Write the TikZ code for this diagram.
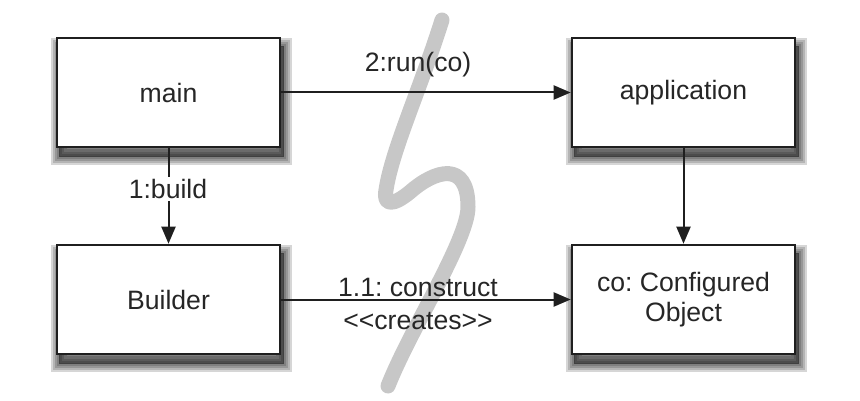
\documentclass[tikz,border=0pt]{standalone}
\usepackage{fontspec}
\setmainfont{Liberation Sans}
\frenchspacing
\usetikzlibrary{arrows.meta}
\pgfdeclarelayer{bg}
\pgfsetlayers{bg,main}
\begin{document}
\begin{tikzpicture}[x=1pt,y=-1pt,
  lbl/.style={font=\fontsize{26.6}{30}\selectfont, inner sep=1pt, text=black!85},
  shl/.style={draw=black, fill=black, opacity=0.16, line width=#1},
  box/.style={draw=black!88, line width=2.6pt, fill=white,
    minimum width=223pt, minimum height=109pt, inner sep=0pt,
    align=center, font=\fontsize{26.6}{30}\selectfont, text=black!85},
  conn/.style={draw=black!88, line width=2pt, -{Triangle[length=17pt,width=14pt]}},
  squig/.style={draw=black!22, line width=15pt, line cap=round, line join=round}]
\useasboundingbox (0,0) rectangle (860,401);
% break mark
\draw[squig] (442,20) .. controls (420,90) and (392,150) .. (386,190)
  .. controls (383,206) and (393,206) .. (410,192)
  .. controls (435,170) and (468,160) .. (468,207)
  .. controls (468,240) and (410,330) .. (388,386);
% boxes
\node[box] (main) at (168.5,92.5) {main};
\node[box] (app) at (683.5,92.5) {application};
\node[box] (builder) at (168.5,299.5) {Builder};
\node[box] (co) at (683.5,299.5) {co: Configured\\Object};
% shadows
\begin{pgfonlayer}{bg}
\foreach \n in {main,app,builder,co}{
  \foreach \w in {16,11,7,3}{
    \path[shl=\w pt] ([shift={(3,9)}]\n.north west) rectangle ([shift={(3,9)}]\n.south east);
  }}
\end{pgfonlayer}
% connectors
\draw[conn] (main.east) -- (app.west);
\draw[conn] (main.south) -- (builder.north);
\draw[conn] (app.south) -- (co.north);
\draw[conn] (builder.east) -- (co.west);
% labels
\node[lbl] (l2) at (418,65) {2:run(co)};
\node[lbl, fill=white, inner sep=2pt] (l1) at (168,189) {1:build};
\node[lbl] (l11) at (418,287) {1.1: construct};
\node[lbl] (lcr) at (418,321) {<\kern0pt<creates>\kern0pt>};
\end{tikzpicture}
\end{document}
